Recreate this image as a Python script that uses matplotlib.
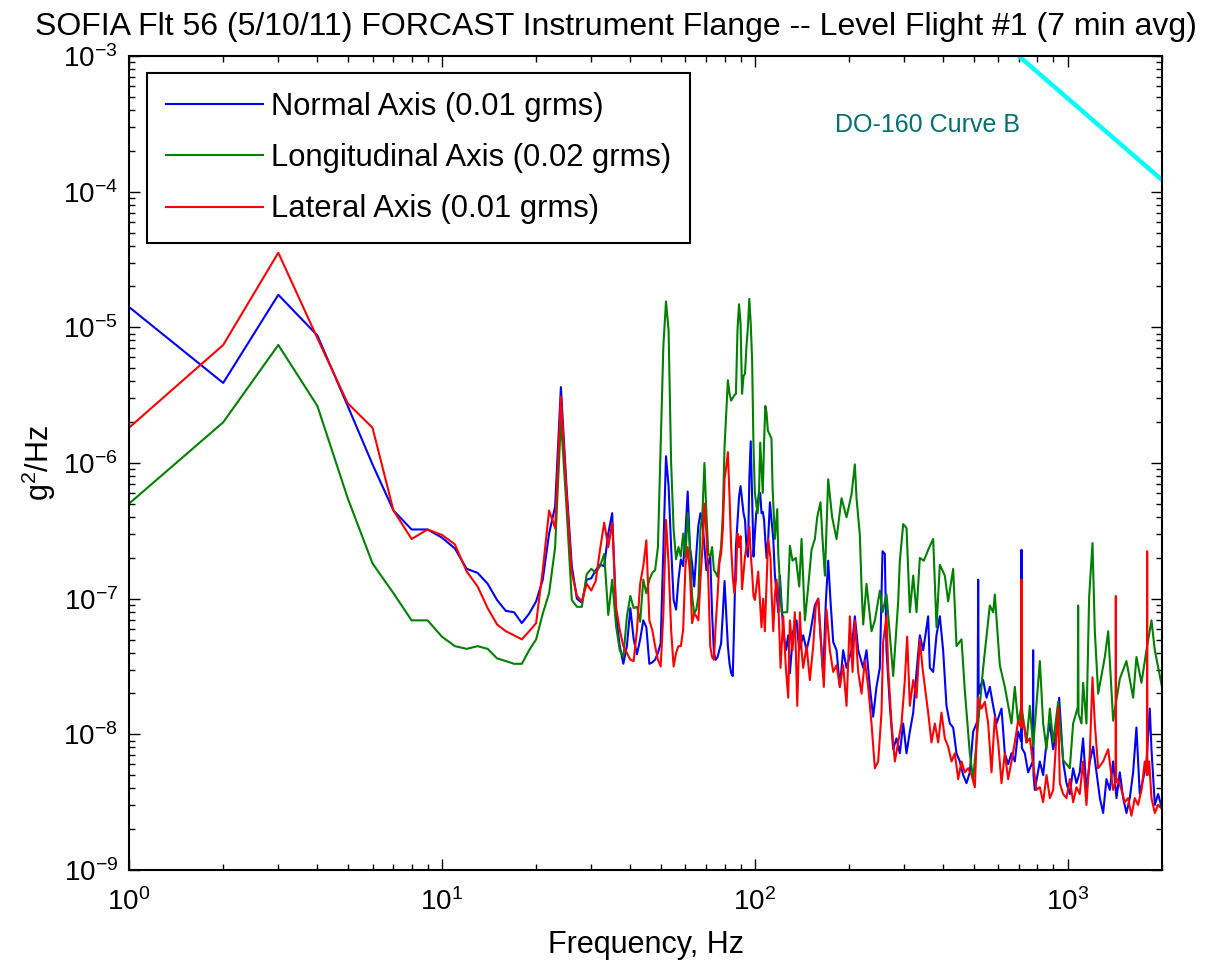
import matplotlib
matplotlib.use('Agg')
import matplotlib.pyplot as plt
import numpy as np
from matplotlib.ticker import LogLocator, NullFormatter

# PSD values, stored as log10(g^2/Hz)
# 1 Hz bins at the low end
normal_lo_f = np.arange(1, 109)
normal_lo = [-4.85, -5.41, -4.76, -5.06, -5.58, -6.01, -6.35, -6.49, -6.49, -6.55,
             -6.63, -6.78, -6.81, -6.89, -7.01, -7.09, -7.10, -7.18, -7.11, -7.02,
             -6.86, -6.52, -6.32, -5.44, -6.17, -6.76, -7.00, -7.03, -6.86, -6.85,
             -6.79, -6.75, -6.76, -6.52, -6.37, -7.11, -7.35, -7.48, -7.35, -7.07,
             -7.30, -7.41, -7.30, -7.16, -7.21, -7.48, -7.47, -7.45, -7.40, -7.33,
             -6.62, -5.95, -6.17, -6.62, -7.01, -7.08, -6.86, -6.71, -6.76, -6.52,
             -6.21, -6.62, -6.74, -6.91, -6.67, -6.46, -6.37, -6.44, -6.62, -6.79,
             -6.74, -6.69, -7.11, -7.40, -7.45, -7.43, -7.38, -7.33, -7.11, -6.87,
             -7.11, -7.35, -7.48, -7.55, -7.57, -7.11, -6.62, -6.44, -6.25, -6.17,
             -6.27, -6.37, -6.42, -6.62, -6.69, -6.12, -5.84, -6.25, -6.69, -6.52,
             -6.37, -6.32, -6.22, -6.22, -6.37, -6.36, -6.42, -6.57]
normal_hi_f = [109.0, 110.3, 111.7, 114.5, 115.9, 118.8, 120.2, 123.2, 125.6, 127.8,
               129.4, 132.6, 135.9, 138.6, 142.7, 146.3, 149.9, 155.5, 159.4, 165.3,
               168.6, 171.5, 174.5, 178.0, 182.4, 186.9, 191.5, 196.3, 203.7, 208.7,
               213.9, 221.9, 227.4, 233.0, 238.8, 244.7, 250.8, 255.8, 260.2, 263.4,
               270.0, 276.7, 283.5, 290.6, 297.8, 305.2, 312.8, 320.6, 328.5, 336.7,
               345.0, 357.9, 362.4, 371.4, 380.5, 390.0, 399.6, 409.6, 419.8, 430.2,
               440.9, 451.9, 463.1, 474.6, 486.3, 498.4, 515.0, 517.1, 519.0, 523.5,
               536.4, 549.8, 563.4, 577.4, 591.7, 614.0, 629.1, 644.8, 660.7, 677.2,
               693.9, 709.0, 711.2, 713.0, 728.8, 746.9, 773.0, 775.0, 777.0, 784.6,
               814.0, 834.2, 855.0, 876.2, 898.0, 920.3, 938.4, 966.3, 990.4, 1015,
               1040, 1066, 1092, 1119, 1147, 1176, 1205, 1235, 1266, 1297,
               1329, 1362, 1396, 1431, 1466, 1503, 1540, 1578, 1617, 1657,
               1698, 1741, 1784, 1828, 1851, 1897, 1944, 2000]
normal_hi = [-6.70, -6.56, -6.29, -6.56, -6.83, -7.10, -6.83, -7.24, -7.38, -7.27,
             -7.55, -7.24, -7.16, -7.38, -7.27, -7.38, -7.27, -7.05, -7.00, -7.57,
             -7.02, -6.72, -7.02, -7.32, -7.38, -7.65, -7.38, -7.51, -7.38, -7.13,
             -7.38, -7.51, -7.38, -7.65, -7.87, -7.65, -7.51, -6.65, -6.67, -7.38,
             -7.79, -8.11, -8.03, -8.14, -7.92, -8.14, -7.98, -7.84, -7.54, -7.27,
             -7.38, -7.13, -7.51, -7.54, -7.27, -7.13, -7.38, -7.79, -7.92, -7.95,
             -8.14, -8.20, -8.30, -8.36, -8.28, -7.98, -7.90, -6.86, -7.70, -7.65,
             -7.60, -7.73, -7.65, -7.79, -7.92, -7.81, -8.14, -8.22, -8.14, -8.20,
             -7.98, -8.05, -6.64, -8.10, -8.14, -8.28, -8.20, -7.38, -8.30, -8.41,
             -8.20, -8.30, -8.06, -7.92, -8.11, -7.98, -7.73, -8.20, -8.36, -8.44,
             -8.25, -8.36, -8.28, -8.03, -8.41, -8.20, -8.09, -8.28, -8.47, -8.58,
             -8.33, -8.41, -8.20, -8.47, -8.28, -8.47, -8.58, -8.47, -8.28, -7.95,
             -8.44, -8.33, -8.20, -7.81, -8.11, -8.52, -8.44, -8.55]

long_lo_f = np.arange(1, 111)
long_lo = [-6.30, -5.70, -5.13, -5.58, -6.26, -6.74, -6.96, -7.16, -7.16, -7.28,
           -7.35, -7.37, -7.35, -7.37, -7.44, -7.46, -7.48, -7.48, -7.38, -7.30,
           -7.11, -6.96, -6.62, -5.68, -6.32, -7.01, -7.06, -7.06, -6.82, -6.78,
           -6.81, -6.76, -6.67, -7.12, -6.86, -7.20, -7.38, -7.43, -7.13, -6.98,
           -7.07, -7.06, -7.17, -6.86, -6.96, -6.86, -6.81, -6.79, -6.62, -5.88,
           -5.14, -4.81, -5.02, -6.00, -6.49, -6.71, -6.62, -6.69, -6.52, -6.69,
           -6.37, -6.62, -6.98, -7.11, -7.08, -6.98, -6.49, -6.37, -6.00, -6.37,
           -6.67, -6.69, -6.62, -6.79, -6.81, -6.84, -6.71, -6.62, -6.37, -5.88,
           -5.63, -5.39, -5.49, -5.54, -5.52, -5.50, -5.49, -5.02, -4.83, -4.97,
           -5.49, -5.36, -5.34, -5.14, -5.00, -4.79, -4.97, -5.24, -5.88, -6.22,
           -6.30, -6.37, -6.27, -5.85, -6.03, -6.22, -5.85, -5.58, -5.63, -5.76]
long_hi_f = [113.0, 113.9, 115.9, 117.9, 118.8, 121.7, 126.9, 129.4, 131.9, 135.2,
             138.6, 141.0, 144.5, 148.1, 151.7, 155.5, 158.2, 162.1, 164.5, 167.4,
             171.5, 176.6, 182.4, 189.2, 196.3, 203.7, 208.7, 211.3, 216.5, 219.2,
             221.9, 227.4, 235.9, 241.8, 250.9, 255.8, 263.5, 276.7, 287.1, 290.6,
             297.9, 305.3, 312.8, 320.6, 328.5, 336.7, 346.7, 358.0, 371.4, 380.6,
             390.0, 404.6, 414.7, 430.2, 440.9, 457.4, 468.8, 486.3, 498.4, 517.1,
             536.4, 563.4, 577.4, 584.5, 606.4, 629.1, 660.7, 677.2, 693.9, 711.2,
             737.9, 756.2, 775.1, 814.0, 834.2, 855.0, 876.2, 898.0, 931.6, 966.3,
             1014.9, 1040.1, 1076.0, 1079.0, 1082.0, 1105.8, 1119.4, 1147.2, 1170.0, 1199.2,
             1220.0, 1250.4, 1313.3, 1345.9, 1396.3, 1466.5, 1539.7, 1617.3, 1657.4, 1719.5,
             1784.0, 1851.0, 1896.9, 2000]
long_hi = [-5.82, -6.18, -6.56, -6.34, -6.67, -7.10, -7.10, -6.61, -6.72, -6.70,
           -6.91, -6.56, -7.16, -6.91, -6.64, -6.56, -6.40, -6.29, -6.56, -6.83,
           -6.12, -6.40, -6.56, -6.26, -6.40, -6.23, -6.01, -6.26, -6.53, -6.91,
           -7.19, -6.89, -7.24, -7.16, -6.94, -7.10, -6.97, -7.57, -7.02, -6.72,
           -6.45, -6.48, -7.10, -6.83, -7.10, -6.70, -6.72, -6.64, -6.56, -7.21,
           -6.75, -6.83, -7.02, -6.78, -7.35, -7.30, -7.68, -8.14, -8.33, -7.92,
           -7.51, -7.05, -7.10, -6.97, -7.49, -7.65, -7.92, -7.65, -7.92, -7.79,
           -8.06, -7.79, -8.09, -7.46, -7.92, -8.11, -7.81, -8.06, -7.76, -8.19,
           -8.25, -7.92, -7.80, -7.05, -7.85, -7.92, -7.62, -7.92, -6.99, -6.59,
           -7.24, -7.70, -7.43, -7.24, -7.90, -7.59, -7.46, -7.73, -7.43, -7.62,
           -7.38, -7.16, -7.38, -7.65]

lat_lo_f = np.arange(1, 101)
lat_lo = [-5.74, -5.13, -4.45, -5.08, -5.56, -5.74, -6.35, -6.56, -6.49, -6.53,
          -6.60, -6.80, -6.91, -7.07, -7.19, -7.24, -7.27, -7.30, -7.24, -7.18,
          -6.79, -6.35, -6.48, -5.51, -6.22, -6.81, -6.98, -7.02, -6.89, -6.94,
          -6.87, -6.64, -6.44, -6.62, -6.44, -7.06, -7.23, -7.35, -7.40, -7.45,
          -7.46, -7.23, -6.89, -6.76, -6.57, -7.16, -7.23, -7.35, -7.45, -7.50,
          -7.11, -6.42, -6.74, -7.23, -7.50, -7.40, -7.35, -7.35, -7.23, -6.76,
          -6.62, -6.81, -7.18, -7.11, -7.13, -7.16, -6.86, -6.62, -6.30, -6.52,
          -6.86, -7.35, -7.43, -7.45, -7.18, -6.98, -6.74, -6.67, -6.49, -6.12,
          -6.03, -5.92, -6.25, -6.62, -6.84, -6.96, -6.86, -6.52, -6.62, -6.54,
          -6.93, -6.81, -6.69, -6.62, -6.62, -6.47, -6.67, -6.81, -6.98, -7.01]
lat_hi_f = [102.5, 105.0, 106.3, 107.6, 110.3, 112.2, 113.0, 114.5, 115.9, 117.3,
            118.8, 120.8, 123.2, 125.6, 127.8, 129.4, 131.9, 134.2, 136.6, 139.3,
            141.0, 142.7, 146.3, 149.9, 153.6, 156.6, 159.4, 163.3, 166.1, 169.4,
            173.6, 178.0, 182.4, 186.9, 191.5, 196.3, 201.2, 205.2, 208.7, 213.9,
            219.2, 224.6, 230.2, 235.9, 241.8, 247.8, 253.9, 257.0, 263.4, 266.7,
            273.3, 280.1, 287.1, 294.2, 301.5, 306.7, 312.8, 320.6, 328.5, 336.7,
            343.3, 349.3, 357.9, 366.8, 376.0, 385.3, 394.8, 404.6, 414.6, 425.0,
            435.5, 446.4, 457.4, 468.8, 480.4, 492.4, 504.6, 517.1, 530.0, 543.2,
            556.6, 570.4, 584.5, 599.1, 614.0, 629.1, 644.8, 660.7, 677.2, 693.9,
            709.0, 711.2, 713.0, 723.4, 737.9, 756.2, 775.0, 794.3, 814.0, 834.2,
            855.0, 876.2, 898.0, 920.3, 931.6, 943.0, 966.3, 990.4, 1015, 1040,
            1066, 1092, 1119, 1147, 1176, 1199, 1220, 1250, 1297, 1346,
            1396, 1421, 1424, 1427, 1448, 1484, 1521, 1559, 1597, 1637,
            1677, 1720, 1762, 1790, 1793, 1796, 1820, 1851, 1897, 1944,
            2000]
lat_hi = [-6.80, -7.21, -7.00, -7.24, -6.56, -6.70, -6.94, -7.24, -6.97, -6.86,
          -7.02, -7.51, -7.13, -7.51, -7.73, -7.16, -7.38, -7.10, -7.79, -7.10,
          -7.38, -7.51, -7.35, -7.60, -7.35, -7.05, -7.00, -7.38, -7.65, -7.08,
          -7.38, -7.54, -7.49, -7.65, -7.49, -7.79, -7.13, -7.54, -7.16, -7.54,
          -7.70, -7.46, -7.65, -7.92, -8.25, -8.20, -7.84, -7.32, -7.13, -7.51,
          -7.92, -8.20, -8.06, -7.92, -7.60, -7.28, -7.79, -7.60, -7.73, -7.30,
          -7.51, -7.65, -7.84, -8.06, -7.92, -8.06, -7.84, -8.03, -8.09, -8.20,
          -8.14, -8.33, -8.20, -8.28, -8.25, -8.30, -8.39, -7.73, -7.81, -7.76,
          -7.92, -8.28, -7.87, -8.06, -8.36, -8.14, -8.33, -8.20, -8.06, -7.90,
          -7.95, -6.86, -7.95, -7.92, -8.06, -8.03, -8.22, -8.41, -8.39, -8.50,
          -8.30, -8.47, -8.41, -8.00, -7.80, -8.36, -8.44, -8.47, -8.33, -8.50,
          -8.39, -8.44, -8.20, -8.52, -8.14, -7.58, -7.92, -8.25, -8.20, -8.11,
          -8.41, -8.35, -6.98, -8.35, -8.33, -8.41, -8.50, -8.47, -8.60, -8.47,
          -8.52, -8.41, -8.20, -8.30, -6.65, -8.30, -8.20, -8.47, -8.58, -8.52,
          -8.55]

# DO-160 Curve B (visible part)
curve_f = [697, 2000]
curve_psd = [1.0e-3, 1.22e-4]

labels = ['Normal Axis (0.01 grms)', 'Longitudinal Axis (0.02 grms)',
          'Lateral Axis (0.01 grms)']

plt.rcParams['font.family'] = ['Liberation Sans', 'DejaVu Sans']
plt.rcParams['mathtext.fontset'] = 'custom'
plt.rcParams['mathtext.rm'] = 'Liberation Sans'
plt.rcParams['mathtext.it'] = 'Liberation Sans:italic'
plt.rcParams['mathtext.bf'] = 'Liberation Sans:bold'
plt.rcParams['axes.unicode_minus'] = False

fig = plt.figure(figsize=(12.15, 9.72), dpi=100)
ax = fig.add_axes([129 / 1215, 1 - 870 / 972, 1033 / 1215, 814 / 972])


def join(f_lo, v_lo, f_hi, v_hi):
    f = np.concatenate([np.asarray(f_lo, float), np.asarray(f_hi, float)])
    v = 10.0 ** np.concatenate([np.asarray(v_lo), np.asarray(v_hi)])
    return f, v


fn, pn = join(normal_lo_f, normal_lo, normal_hi_f, normal_hi)
fl, pl = join(long_lo_f, long_lo, long_hi_f, long_hi)
fa, pa = join(lat_lo_f, lat_lo, lat_hi_f, lat_hi)

ax.plot(fn, pn, color='#0000ff', lw=1.5, label=labels[0])
ax.plot(fl, pl, color='#008000', lw=1.5, label=labels[1])
ax.plot(fa, pa, color='#ff0000', lw=1.5, label=labels[2])
ax.plot(curve_f, curve_psd, color='#00ffff', lw=3.2)

ax.set_xscale('log')
ax.set_yscale('log')
ax.set_xlim(1, 2000)
ax.set_ylim(1e-9, 1e-3)
for axis in (ax.xaxis, ax.yaxis):
    axis.set_major_locator(LogLocator(base=10, numticks=20))
    axis.set_minor_locator(LogLocator(base=10, subs=np.arange(2, 10), numticks=20))
    axis.set_minor_formatter(NullFormatter())

ax.tick_params(which='both', direction='in', top=True, right=True, width=1.0,
               labelsize=20)
ax.tick_params(axis='y', pad=8)
ax.tick_params(axis='x', pad=13)
ax.tick_params(which='major', length=8)
ax.tick_params(which='minor', length=4)
for s in ax.spines.values():
    s.set_linewidth(1.5)

ax.text(180, 3.1e-4, 'DO-160 Curve B', color='#007070', fontsize=18, va='center')

ax.set_title('SOFIA Flt 56 (5/10/11) FORCAST Instrument Flange -- Level Flight #1 (7 min avg)',
             fontsize=23, x=0.4714, pad=15)
ax.set_xlabel('Frequency, Hz', fontsize=22)
ax.set_ylabel('g$^2$/Hz', fontsize=22)
ax.xaxis.set_label_coords(0.5, -0.074)
ax.yaxis.set_label_coords(-0.069, 0.5)

leg = ax.legend(loc='upper left', bbox_to_anchor=(0.0174, 0.979), borderaxespad=0,
                fontsize=22.3, fancybox=False, edgecolor='black', framealpha=1,
                handlelength=3.13, handletextpad=0.29, borderpad=0.6, labelspacing=0.69)
leg.get_frame().set_linewidth(1.5)

fig.savefig('out.png', dpi=100)
